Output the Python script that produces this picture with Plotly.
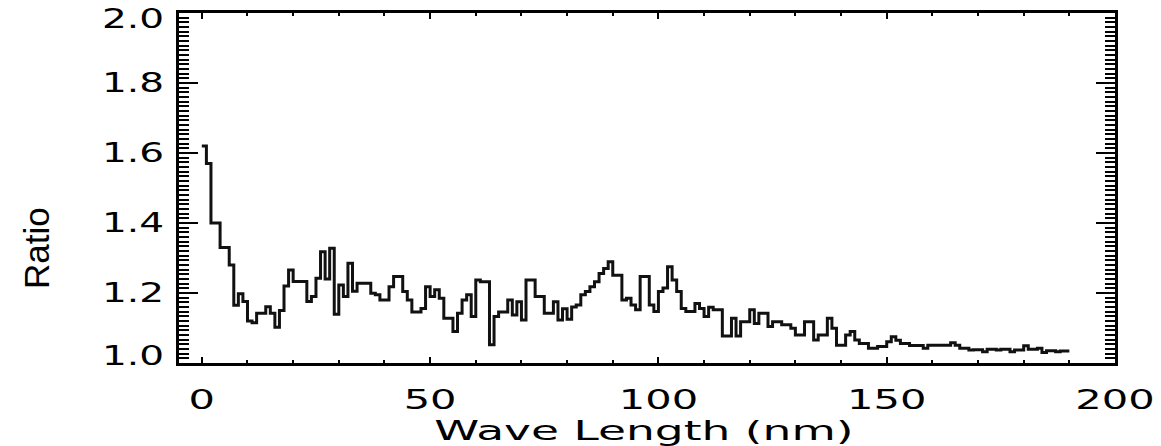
import numpy as np
import plotly.graph_objects as go

# Ratio per 1 nm wavelength bin, bins start at 0 nm
ratio = [
    1.62, 1.57, 1.40, 1.40, 1.33, 1.33, 1.28, 1.165, 1.198, 1.176,
    1.12, 1.115, 1.142, 1.142, 1.161, 1.142, 1.102, 1.15, 1.22, 1.266,
    1.233, 1.233, 1.233, 1.176, 1.19, 1.242, 1.318, 1.24, 1.328, 1.139,
    1.223, 1.19, 1.285, 1.205, 1.228, 1.228, 1.228, 1.199, 1.195, 1.18,
    1.18, 1.218, 1.247, 1.247, 1.204, 1.18, 1.146, 1.146, 1.156, 1.218,
    1.19, 1.209, 1.185, 1.128, 1.128, 1.09, 1.142, 1.18, 1.195, 1.133,
    1.237, 1.232, 1.232, 1.052, 1.133, 1.146, 1.146, 1.18, 1.137, 1.175,
    1.123, 1.237, 1.237, 1.19, 1.19, 1.142, 1.142, 1.175, 1.123, 1.155,
    1.125, 1.16, 1.166, 1.195, 1.204, 1.218, 1.232, 1.256, 1.27, 1.289,
    1.251, 1.251, 1.18, 1.185, 1.166, 1.152, 1.247, 1.247, 1.166, 1.147,
    1.204, 1.214, 1.275, 1.237, 1.204, 1.156, 1.147, 1.147, 1.17, 1.156,
    1.133, 1.159, 1.152, 1.152, 1.077, 1.077, 1.128, 1.077, 1.118, 1.118,
    1.152, 1.113, 1.142, 1.142, 1.104, 1.118, 1.118, 1.109, 1.109, 1.099,
    1.08, 1.08, 1.118, 1.118, 1.066, 1.08, 1.08, 1.128, 1.099, 1.051,
    1.051, 1.08, 1.09, 1.066, 1.056, 1.056, 1.042, 1.042, 1.047, 1.047,
    1.061, 1.075, 1.065, 1.056, 1.056, 1.05, 1.05, 1.05, 1.042, 1.051,
    1.051, 1.051, 1.051, 1.051, 1.058, 1.051, 1.042, 1.042, 1.037, 1.038,
    1.038, 1.032, 1.039, 1.039, 1.037, 1.039, 1.039, 1.032, 1.037, 1.037,
    1.049, 1.039, 1.039, 1.042, 1.03, 1.035, 1.035, 1.032, 1.034, 1.034,
]
bin_width_nm = 1.0
x_tick_values = [0, 50, 100, 150, 200]
y_tick_values = [1.0, 1.2, 1.4, 1.6, 1.8, 2.0]

# histogram-style steps: left bin edges plus the closing edge
edges = np.arange(len(ratio) + 1) * bin_width_nm
steps = ratio + [ratio[-1]]

fig = go.Figure(go.Scatter(
    x=edges, y=steps, mode="lines", line_shape="hv",
    line=dict(color="#111111", width=3), showlegend=False,
))

tick_font = dict(family="DejaVu Sans", size=26, color="black")

fig.update_xaxes(
    range=[-5, 200], tickvals=x_tick_values, ticks="inside", ticklen=6,
    tickwidth=2, tickcolor="black", showline=True, linewidth=2.5,
    linecolor="black", mirror="ticks", showgrid=False, zeroline=False,
    tickfont=tick_font, ticklabelstandoff=12, automargin=False,
    ticklabeloverflow="allow",
    minor=dict(dtick=10, ticks="inside", ticklen=3, tickwidth=2,
               tickcolor="black", showgrid=False),
)
fig.update_yaxes(
    range=[1.0, 2.0], tickvals=y_tick_values, tickformat=".1f",
    ticks="inside", ticklen=19, tickwidth=2, tickcolor="black",
    showline=True, linewidth=2.5, linecolor="black", mirror="ticks",
    showgrid=False, zeroline=False, tickfont=tick_font, ticklabelstandoff=7,
    automargin=False, ticklabeloverflow="allow",
    minor=dict(tick0=1.0, dtick=0.2 / 15, ticks="inside", ticklen=10,
               tickwidth=2, tickcolor="black", showgrid=False),
)

fig.add_annotation(
    text="Wave Length (nm)", xref="paper", yref="paper", x=0.4968, y=-0.194,
    xanchor="center", yanchor="middle", showarrow=False,
    font=dict(family="DejaVu Sans", size=26, color="black"),
)
fig.add_annotation(
    text="Ratio", xref="paper", yref="paper", x=-0.1517, y=0.3286,
    xanchor="center", yanchor="middle", textangle=-90, showarrow=False,
    font=dict(family="Liberation Sans", size=35, color="black"),
)

fig.update_layout(
    width=1161, height=446,
    margin=dict(l=179, r=46, t=13, b=83, autoexpand=False),
    paper_bgcolor="white", plot_bgcolor="white",
)

# widen the horizontal lettering of the tick labels and x caption, and keep
# the end labels of the ratio axis inside the axis span
widen_text = """
var gd = document.getElementById('{plot_id}');
function widenNode(t, s, dy) {
  var x = parseFloat(t.getAttribute('x')) || 0;
  var tr = t.getAttribute('transform') || '';
  t.setAttribute('transform', tr + ' translate(' + x + ',' + (dy || 0) +
                 ') scale(' + s + ',1) translate(' + (-x) + ',0)');
}
gd.querySelectorAll('.xtick text').forEach(function (t) { widenNode(t, 1.6, 0); });
gd.querySelectorAll('.ytick text').forEach(function (t) {
  var label = t.textContent.trim();
  var dy = label === '2.0' ? 6 : (label === '1.0' ? -7 : 0);
  widenNode(t, 1.5, dy);
});
gd.querySelectorAll('.annotation-text').forEach(function (t) {
  if (t.textContent.indexOf('Wave') === 0) { widenNode(t, 1.75, 0); }
});
"""

fig.write_html("out.html", post_script=widen_text)
